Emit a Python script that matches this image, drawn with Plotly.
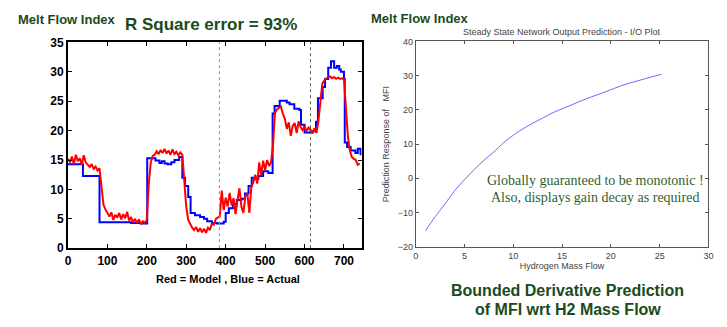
import plotly.graph_objects as go

# ---------------- data ----------------
# Left panel: model (red) sampled every 5 time units
red_x = list(range(0, 745, 5))
red_y = [15.2, 14.6, 15.6, 14.3, 15.9, 14.8, 15.3, 14.2, 15.8, 14.6,
         14.2, 13.8, 14.3, 13.5, 13.9, 13.2, 13.6, 10.5, 7.4, 6.6,
         6.0, 5.4, 6.1, 4.8, 5.7, 5.2, 6.0, 4.9, 5.8, 5.1,
         6.2, 4.7, 5.3, 4.4, 5.0, 4.3, 4.9, 4.1, 4.6, 4.3,
         4.8, 11.0, 14.6, 15.7, 15.9, 16.5, 16.0, 16.7, 16.2, 16.9,
         16.1, 16.6, 15.9, 16.8, 16.0, 16.4, 15.8, 16.3, 15.9, 11.7,
         7.0, 4.8, 4.0, 3.5, 3.1, 3.6, 2.8, 3.4, 2.7, 3.3,
         2.6, 3.5, 3.1, 4.2, 4.0, 5.0, 5.2, 5.4, 9.8, 6.5,
         8.6, 7.1, 9.4, 7.3, 8.5, 5.8, 8.2, 10.2, 7.0, 6.0,
         8.9, 9.3, 6.0, 10.4, 11.2, 12.5, 11.0, 14.6, 12.4, 14.9,
         13.3, 15.0, 14.0, 14.6, 17.5, 23.0, 23.6, 23.9, 24.1, 22.9,
         22.0, 20.3, 21.4, 19.1, 20.8, 21.3, 19.6, 21.6, 20.6, 20.1,
         20.7, 19.9, 20.5, 20.2, 19.5, 20.4, 19.6, 21.5, 25.5, 28.0,
         28.5, 28.9, 29.0, 29.2, 28.9, 29.1, 28.8, 29.0, 28.8, 28.9,
         28.7, 24.0, 19.0, 16.6, 15.5, 15.2, 15.0, 14.2, 14.4]

# Left panel: actual (blue), step changes
blue_x = [0, 38, 80, 160, 185, 201, 222, 232, 238, 245, 253, 262, 270, 282,
          290, 297, 305, 311, 322, 335, 345, 353, 365, 378, 395, 400, 408,
          418, 428, 440, 449, 458, 466, 475, 483, 495, 508, 519, 524, 537,
          555, 562, 574, 587, 591, 600, 615, 629, 634, 646, 652, 660, 667,
          675, 682, 688, 692, 700, 702, 708, 717, 729, 735, 742]
blue_y = [14.3, 12.3, 4.4, 4.3, 4.2, 15.3, 14.9, 14.5, 14.8, 14.4, 14.3, 14.6,
          15.0, 15.5, 12.0, 10.6, 8.7, 6.0, 5.6, 5.3, 5.0, 4.6, 4.3, 4.2,
          4.5, 6.0, 6.8, 7.5, 8.2, 8.4, 9.3, 10.6, 12.0, 11.8, 12.3, 13.1,
          12.8, 22.9, 24.2, 25.1, 24.8, 24.5, 23.7, 23.5, 21.0, 19.7, 19.9,
          21.5, 25.5, 27.4, 28.8, 30.7, 31.8, 30.7, 31.0, 30.4, 30.0, 28.8,
          18.0, 17.2, 16.6, 16.2, 16.9, 15.8]

marker_lines = [384, 615]

# Right panel: steady-state I/O curve
h2_flow = [1, 2, 3, 4, 5, 6, 7, 8, 9, 10, 11, 12, 13, 14, 15, 16, 17, 18,
           19, 20, 21, 22, 23, 24, 25.2]
mfi_pred = [-15.3, -11.2, -7.5, -3.6, -0.4, 2.6, 5.3, 7.7, 10.4, 12.6, 14.5,
            16.1, 17.6, 19.1, 20.3, 21.5, 22.7, 23.8, 24.8, 25.9, 27.0, 27.9,
            28.7, 29.5, 30.4]

W, H = 727, 327
GREEN = "#1b4a1b"
BOLD = "Liberation Sans"

fig = go.Figure()
fig.add_trace(go.Scatter(x=blue_x, y=blue_y, mode="lines", line_shape="hv",
                         line=dict(color="#0000ff", width=2),
                         xaxis="x", yaxis="y", showlegend=False))
fig.add_trace(go.Scatter(x=red_x, y=red_y, mode="lines",
                         line=dict(color="#ff0000", width=2),
                         xaxis="x", yaxis="y", showlegend=False))
fig.add_trace(go.Scatter(x=h2_flow, y=mfi_pred, mode="lines", line_shape="spline",
                         line=dict(color="#6b6bff", width=1),
                         xaxis="x2", yaxis="y2", showlegend=False))

for i, xv in enumerate(marker_lines):
    fig.add_shape(type="line", xref="x", yref="y domain", x0=xv, x1=xv, y0=0, y1=1,
                  line=dict(color="#7d9a7d" if i == 0 else "#4a5a4a", width=1, dash="dot"))

left_ax = dict(showgrid=False, zeroline=False, showline=True, mirror="ticks",
               linecolor="black", linewidth=2, ticks="inside", ticklen=4,
               tickcolor="black",
               tickfont=dict(family=BOLD, size=12, color="black", weight="bold"))
fig.update_layout(
    width=W, height=H, margin=dict(l=0, r=0, t=0, b=0),
    paper_bgcolor="white", plot_bgcolor="white",
    xaxis=dict(domain=[65.7 / W, 362.7 / W], range=[0, 745], dtick=100, tick0=0,
               anchor="y", **left_ax),
    yaxis=dict(domain=[1 - 252 / H, 1 - 37 / H], range=[0, 35], dtick=5,
               anchor="x", **left_ax),
    xaxis2=dict(domain=[417.3 / W, 713.3 / W], range=[0, 30], dtick=5, anchor="y2",
                showgrid=False, zeroline=False, showline=True, mirror="ticks",
                linecolor="#555555", linewidth=1, ticks="inside", ticklen=3,
                tickcolor="#555555",
                tickfont=dict(family="Liberation Sans Narrow, Liberation Sans", size=9, color="#444444"),
                title=dict(text="Hydrogen Mass Flow", standoff=2,
                           font=dict(family="Liberation Sans Narrow, Liberation Sans", size=9, color="#444444"))),
    yaxis2=dict(domain=[1 - 250.5 / H, 1 - 36 / H], range=[-20, 40], dtick=10, anchor="x2",
                showgrid=False, zeroline=False, showline=True, mirror="ticks",
                linecolor="#555555", linewidth=1, ticks="inside", ticklen=3,
                tickcolor="#555555",
                tickfont=dict(family="Liberation Sans Narrow, Liberation Sans", size=9, color="#444444"),
                title=dict(text="Prediction Response of   MFI", standoff=6,
                           font=dict(family="Liberation Sans Narrow, Liberation Sans", size=9, color="#444444"))),
)

def note(text, x, y, size, color=GREEN, family=BOLD, weight="bold"):
    fig.add_annotation(text=text, x=x / W, y=1 - y / H, xref="paper", yref="paper",
                       showarrow=False, xanchor="center", yanchor="middle",
                       font=dict(family=family, size=size, color=color, weight=weight))

note("Melt Flow Index", 65, 13, 13)
note("R Square error = 93%", 210, 18, 17)
note("Melt Flow Index", 422, 12, 13)
note("Red = Model , Blue = Actual", 227, 284, 11, color="black")
note("Steady State Network Output Prediction - I/O Plot", 565, 26, 9, color="#444444",
     family="Liberation Sans Narrow, Liberation Sans", weight="normal")
note("Globally guaranteed to be monotonic !", 599, 181, 14, color="#2f5f2f",
     family="Liberation Serif", weight="normal")
note("Also, displays gain decay as required", 599, 199, 14, color="#2f5f2f",
     family="Liberation Serif", weight="normal")
note("Bounded Derivative Prediction", 571, 296, 16)
note("of MFI wrt H2 Mass Flow", 571, 316, 16)

fig.write_html("out.html")
